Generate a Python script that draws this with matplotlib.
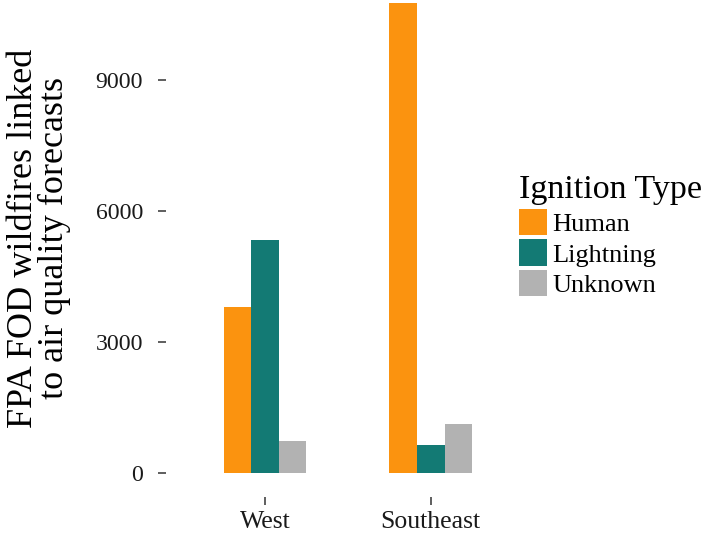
import matplotlib
matplotlib.use("Agg")
import matplotlib.pyplot as plt
import numpy as np
from matplotlib.patches import Patch

regions = ["West", "Southeast"]
ignition_types = ["Human", "Lightning", "Unknown"]
human = [3800, 10760]
lightning = [5345, 642]
unknown = [725, 1124]
yticks = [0, 3000, 6000, 9000]
colors = ["#FB930F", "#137A74", "#B2B2B2"]

plt.rcParams["font.family"] = ["Liberation Serif", "DejaVu Serif"]

fig = plt.figure(figsize=(7.09, 5.34), dpi=100)
# panel runs a little past the top edge, like the source image
ax = fig.add_axes([0.2336, 0.0702, 0.5141, 0.9676])

x = np.arange(1, len(regions) + 1)
w = 0.5 / 3
for i, (vals, c) in enumerate(zip([human, lightning, unknown], colors)):
    ax.bar(x + (i - 1) * w, vals, width=w, color=c, edgecolor="none")

ax.set_xlim(0.4, 2.6)
ax.set_ylim(-538, 11298)
ax.set_xticks(x)
ax.set_xticklabels(regions)
ax.set_yticks(yticks)
ax.set_yticklabels([str(v) for v in yticks])
for s in ax.spines.values():
    s.set_visible(False)
ax.tick_params(axis="both", length=5.8, width=1.1, color="#333333",
               labelcolor="#1a1a1a")
ax.tick_params(axis="y", labelsize=17.2, pad=10.5)
ax.tick_params(axis="x", labelsize=18.5, pad=4.5)

fig.text(39 / 709, 0.554, "FPA FOD wildfires linked\nto air quality forecasts",
         rotation=90, ha="center", va="center", fontsize=26,
         linespacing=0.92, color="black")

handles = [Patch(facecolor=c, edgecolor="none") for c in colors]
leg = fig.legend(handles, ignition_types, title="Ignition Type",
                 loc="upper left", bbox_to_anchor=(0.732, 0.673),
                 frameon=False, fontsize=19, title_fontsize=24.5,
                 handlelength=1.07, handleheight=1.15, handletextpad=0.2,
                 labelspacing=0.12, borderaxespad=0, borderpad=0)
leg._legend_box.align = "left"
leg._legend_box.sep = 3

fig.savefig("out.png", dpi=100)
